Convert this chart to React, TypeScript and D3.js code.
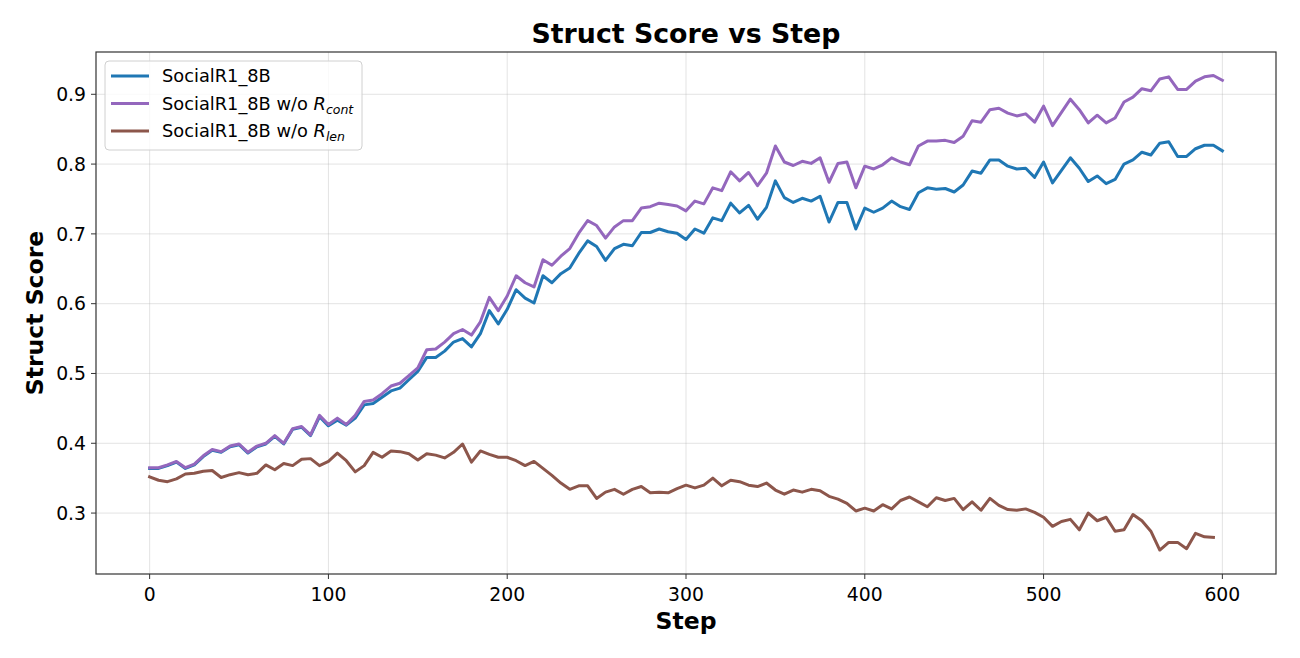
import React from 'react'
import * as d3 from 'd3'

// steps are every 5 from 0 to 600
const steps = d3.range(0, 601, 5)

const socialR1 = [
  0.364, 0.364, 0.368, 0.373, 0.364, 0.369, 0.381, 0.390, 0.387, 0.395,
  0.398, 0.386, 0.395, 0.399, 0.410, 0.399, 0.420, 0.423, 0.411, 0.438,
  0.425, 0.433, 0.426, 0.436, 0.455, 0.457, 0.466, 0.475, 0.479, 0.491,
  0.503, 0.523, 0.523, 0.532, 0.545, 0.550, 0.538, 0.557, 0.590, 0.571,
  0.592, 0.620, 0.608, 0.601, 0.640, 0.630, 0.643, 0.651, 0.672, 0.690,
  0.682, 0.662, 0.679, 0.685, 0.683, 0.702, 0.702, 0.707, 0.703, 0.701,
  0.692, 0.707, 0.701, 0.723, 0.719, 0.744, 0.730, 0.741, 0.721, 0.738,
  0.776, 0.752, 0.745, 0.751, 0.747, 0.754, 0.717, 0.745, 0.745, 0.707,
  0.737, 0.731, 0.737, 0.747, 0.739, 0.735, 0.759, 0.766, 0.764, 0.765,
  0.760, 0.770, 0.790, 0.787, 0.806, 0.806, 0.797, 0.793, 0.794, 0.781,
  0.803, 0.773, 0.791, 0.809, 0.794, 0.775, 0.783, 0.772, 0.778, 0.800,
  0.806, 0.817, 0.813, 0.830, 0.832, 0.811, 0.811, 0.822, 0.827, 0.827,
  0.819
]

const noCont = [
  0.365, 0.365, 0.369, 0.374, 0.365, 0.370, 0.382, 0.391, 0.388, 0.396,
  0.399, 0.387, 0.396, 0.400, 0.411, 0.400, 0.421, 0.424, 0.412, 0.440,
  0.427, 0.436, 0.427, 0.440, 0.460, 0.462, 0.471, 0.482, 0.486, 0.497,
  0.508, 0.534, 0.535, 0.545, 0.557, 0.563, 0.555, 0.574, 0.609, 0.590,
  0.611, 0.640, 0.630, 0.624, 0.663, 0.655, 0.668, 0.679, 0.701, 0.719,
  0.712, 0.694, 0.710, 0.719, 0.719, 0.737, 0.739, 0.744, 0.742, 0.740,
  0.733, 0.747, 0.743, 0.766, 0.762, 0.789, 0.776, 0.788, 0.769, 0.787,
  0.826, 0.803, 0.798, 0.804, 0.801, 0.809, 0.774, 0.801, 0.803, 0.766,
  0.797, 0.793, 0.799, 0.809, 0.803, 0.799, 0.826, 0.833, 0.833, 0.834,
  0.831, 0.840, 0.862, 0.860, 0.878, 0.880, 0.873, 0.869, 0.872, 0.860,
  0.883, 0.855, 0.874, 0.893, 0.878, 0.859, 0.870, 0.859, 0.866, 0.889,
  0.896, 0.908, 0.905, 0.922, 0.925, 0.907, 0.907, 0.919, 0.925, 0.927,
  0.920
]

// this run stops at step 595
const noLen = [
  0.352, 0.347, 0.345, 0.349, 0.356, 0.357, 0.360, 0.361, 0.351, 0.355,
  0.358, 0.355, 0.357, 0.369, 0.362, 0.371, 0.368, 0.377, 0.378, 0.368,
  0.374, 0.386, 0.375, 0.359, 0.368, 0.387, 0.380, 0.389, 0.388, 0.385,
  0.376, 0.385, 0.383, 0.379, 0.387, 0.399, 0.373, 0.389, 0.384, 0.380,
  0.380, 0.375, 0.368, 0.374, 0.364, 0.354, 0.343, 0.334, 0.339, 0.339,
  0.321, 0.330, 0.334, 0.327, 0.334, 0.338, 0.329, 0.330, 0.329, 0.335,
  0.340, 0.336, 0.340, 0.350, 0.339, 0.347, 0.345, 0.340, 0.338, 0.343,
  0.333, 0.327, 0.333, 0.330, 0.334, 0.332, 0.324, 0.320, 0.314, 0.303,
  0.307, 0.303, 0.312, 0.306, 0.318, 0.323, 0.316, 0.309, 0.322, 0.318,
  0.321, 0.305, 0.316, 0.304, 0.321, 0.311, 0.305, 0.304, 0.306, 0.301,
  0.294, 0.281, 0.288, 0.291, 0.276, 0.300, 0.289, 0.294, 0.274, 0.276,
  0.298, 0.289, 0.274, 0.247, 0.258, 0.258, 0.249, 0.271, 0.266, 0.265
]

const xTicks = [0, 100, 200, 300, 400, 500, 600]
const yTicks = [0.3, 0.4, 0.5, 0.6, 0.7, 0.8, 0.9]

const series = [
  { name: 'SocialR1_8B', sub: '', values: socialR1, color: '#1f77b4' },
  { name: 'SocialR1_8B w/o ', sub: 'cont', values: noCont, color: '#9467bd' },
  { name: 'SocialR1_8B w/o ', sub: 'len', values: noLen, color: '#8c564b' }
]

const font = 'DejaVu Sans, sans-serif'

const App = () => {
  const width = 1300
  const height = 658
  const margin = { top: 52, right: 24, bottom: 84, left: 96 }
  const right = width - margin.right
  const bottom = height - margin.bottom

  const x = d3.scaleLinear().domain([-30, 630]).range([margin.left, right])
  const y = d3.scaleLinear().domain([0.2127, 0.9606]).range([bottom, margin.top])

  const line = d3
    .line<number>()
    .x((d, i) => x(steps[i]))
    .y((d) => y(d))

  const gridStyle = { stroke: '#b0b0b0', strokeOpacity: 0.35, strokeWidth: 1 }

  return (
    <svg width={width} height={height} style={{ display: 'block', margin: -8 }}>
      <rect width={width} height={height} fill="#fff" />
      <text
        x={(margin.left + right) / 2}
        y={43}
        textAnchor="middle"
        fontFamily={font}
        fontWeight="bold"
        fontSize={26.8}
      >
        Struct Score vs Step
      </text>

      {/* grid */}
      {xTicks.map((t) => (
        <line key={'gx' + t} x1={x(t)} x2={x(t)} y1={margin.top} y2={bottom} style={gridStyle} />
      ))}
      {yTicks.map((t) => (
        <line key={'gy' + t} x1={margin.left} x2={right} y1={y(t)} y2={y(t)} style={gridStyle} />
      ))}

      {/* lines */}
      <defs>
        <clipPath id="plotClip">
          <rect x={margin.left} y={margin.top} width={right - margin.left} height={bottom - margin.top} />
        </clipPath>
      </defs>
      <g clipPath="url(#plotClip)">
        {series.map((s) => (
          <path
            key={s.name + s.sub}
            d={line(s.values) || ''}
            fill="none"
            stroke={s.color}
            strokeWidth={3}
            strokeLinejoin="round"
            strokeLinecap="square"
          />
        ))}
      </g>

      {/* frame */}
      <rect
        x={margin.left}
        y={margin.top}
        width={right - margin.left}
        height={bottom - margin.top}
        fill="none"
        stroke="#333"
        strokeWidth={1.2}
      />

      {/* x axis */}
      {xTicks.map((t) => (
        <g key={'xt' + t}>
          <line x1={x(t)} x2={x(t)} y1={bottom} y2={bottom + 5} stroke="#333" strokeWidth={1} />
          <text x={x(t)} y={bottom + 27} textAnchor="middle" fontFamily={font} fontSize={18.8}>
            {t}
          </text>
        </g>
      ))}
      <text
        x={(margin.left + right) / 2}
        y={629}
        textAnchor="middle"
        fontFamily={font}
        fontWeight="bold"
        fontSize={23.5}
      >
        Step
      </text>

      {/* y axis */}
      {yTicks.map((t) => (
        <g key={'yt' + t}>
          <line x1={margin.left - 5} x2={margin.left} y1={y(t)} y2={y(t)} stroke="#333" strokeWidth={1} />
          <text
            x={margin.left - 10}
            y={y(t) + 6.7}
            textAnchor="end"
            fontFamily={font}
            fontSize={18.8}
          >
            {d3.format('.1f')(t)}
          </text>
        </g>
      ))}
      <text
        transform={`translate(43,${(margin.top + bottom) / 2}) rotate(-90)`}
        textAnchor="middle"
        fontFamily={font}
        fontWeight="bold"
        fontSize={23.5}
      >
        Struct Score
      </text>

      {/* legend */}
      <g>
        <rect
          x={105}
          y={61}
          width={257}
          height={89}
          rx={4}
          fill="#fff"
          fillOpacity={0.8}
          stroke="#d0d0d0"
          strokeWidth={1}
        />
        {series.map((s, i) => {
          const ly = 76 + i * 27.5
          return (
            <g key={'lg' + i}>
              <line x1={111} x2={149} y1={ly} y2={ly} stroke={s.color} strokeWidth={3} />
              <text x={162} y={ly + 6.3} fontFamily={font} fontSize={17.8}>
                {s.name}
                {s.sub && (
                  <>
                    <tspan fontStyle="italic">R</tspan>
                    <tspan fontStyle="italic" fontSize={12.5} dy={4}>
                      {s.sub}
                    </tspan>
                  </>
                )}
              </text>
            </g>
          )
        })}
      </g>
    </svg>
  )
}

export default App
